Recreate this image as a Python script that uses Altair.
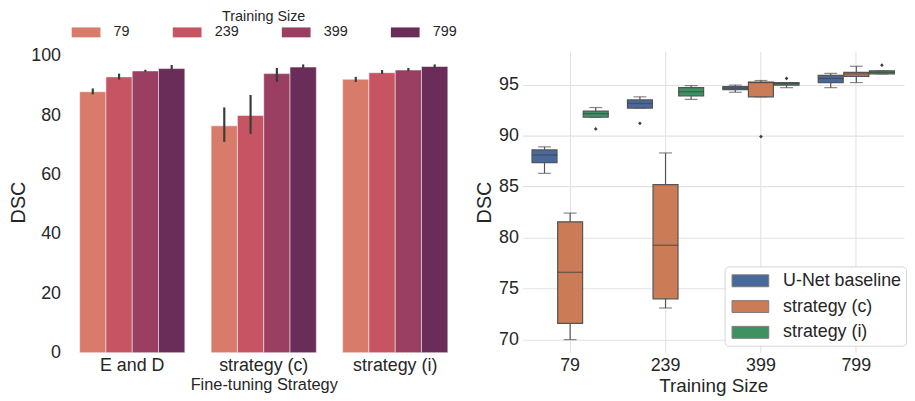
import altair as alt
import pandas as pd

# ---------------- left panel data (bar chart, mean with error bars) ----------------
strategies = ["E and D", "strategy (c)", "strategy (i)"]
size_labels = ["79", "239", "399", "799"]
bar_colors = ["#d97b6b", "#c65462", "#9a3e62", "#6a2d5a"]

bar_mean = {
    "E and D":      [87.9, 92.9, 94.9, 95.7],
    "strategy (c)": [76.4, 79.9, 94.0, 96.2],
    "strategy (i)": [92.1, 94.3, 95.2, 96.4],
}
bar_lo = {
    "E and D":      [87.0, 92.0, 94.6, 95.4],
    "strategy (c)": [71.0, 73.7, 91.2, 95.9],
    "strategy (i)": [91.2, 93.9, 94.8, 96.0],
}
bar_hi = {
    "E and D":      [89.0, 94.0, 95.3, 96.9],
    "strategy (c)": [82.6, 86.8, 95.9, 97.1],
    "strategy (i)": [92.9, 95.2, 95.9, 97.1],
}

# ---------------- right panel data (box plots) ----------------
methods = ["U-Net baseline", "strategy (c)", "strategy (i)"]
box_colors = ["#48699a", "#cc7b57", "#3f9162"]
sizes = ["79", "239", "399", "799"]

box_lo = {
    "U-Net baseline": [86.3, 92.7, 94.25, 94.7],
    "strategy (c)":   [70.0, 73.1, 93.8, 95.2],
    "strategy (i)":   [91.8, 93.55, 94.7, 96.05],
}
box_q1 = {
    "U-Net baseline": [87.35, 92.7, 94.5, 95.2],
    "strategy (c)":   [71.6, 74.0, 93.8, 95.8],
    "strategy (i)":   [91.8, 93.9, 94.95, 96.05],
}
box_med = {
    "U-Net baseline": [88.1, 93.15, 94.65, 95.6],
    "strategy (c)":   [76.6, 79.25, 95.2, 96.05],
    "strategy (i)":   [92.15, 94.3, 95.1, 96.2],
}
box_q3 = {
    "U-Net baseline": [88.6, 93.5, 94.8, 95.9],
    "strategy (c)":   [81.55, 85.2, 95.25, 96.2],
    "strategy (i)":   [92.4, 94.7, 95.2, 96.35],
}
box_hi = {
    "U-Net baseline": [88.9, 93.8, 94.95, 96.1],
    "strategy (c)":   [82.4, 88.3, 95.4, 96.8],
    "strategy (i)":   [92.75, 94.9, 95.2, 96.35],
}
outlier_method = ["U-Net baseline", "strategy (c)", "strategy (i)", "strategy (i)", "strategy (i)"]
outlier_size = ["239", "399", "79", "399", "799"]
outlier_value = [91.2, 89.9, 90.65, 95.6, 96.9]

# ---------------- build tables ----------------
bar_rows = []
for s in strategies:
    for i, sz in enumerate(size_labels):
        bar_rows.append({"Strategy": s, "Size": sz, "DSC": bar_mean[s][i],
                         "lo": bar_lo[s][i], "hi": bar_hi[s][i]})
df_bar = pd.DataFrame(bar_rows)

box_rows = []
for m in methods:
    for i, sz in enumerate(sizes):
        box_rows.append({"Method": m, "Size": sz, "lo": box_lo[m][i], "q1": box_q1[m][i],
                         "med": box_med[m][i], "q3": box_q3[m][i], "hi": box_hi[m][i]})
df_box = pd.DataFrame(box_rows)
df_out = pd.DataFrame({"Method": outlier_method, "Size": outlier_size, "DSC": outlier_value})

FONT = "Liberation Sans"
TXT = "#262626"
PLOT_H = 304

# ---------------- left chart ----------------
lx = alt.X("Strategy:N", sort=strategies,
           scale=alt.Scale(domain=strategies, paddingInner=0.2, paddingOuter=0.1),
           axis=alt.Axis(title="Fine-tuning Strategy", labelAngle=0, ticks=False, domain=False,
                         labelFontSize=18, titleFontSize=16.5, labelPadding=4, titlePadding=2,
                         titleFontWeight="normal"))
lxo = alt.XOffset("Size:N", sort=size_labels,
                  scale=alt.Scale(domain=size_labels, paddingInner=0, paddingOuter=0))
ly_scale = alt.Scale(domain=[0, 101.5], nice=False, zero=True)

left_legend = alt.Legend(
    title="Training Size", orient="none", legendX=5, legendY=-42, direction="horizontal",
    titleAnchor="middle", titleOrient="top", titleFontSize=14.5, titleFontWeight="normal",
    labelFontSize=14.5, symbolType="M-1,-0.714H3.143V0.714H-1Z", symbolSize=196,
    labelOffset=28, columnPadding=43, symbolStrokeWidth=0, titlePadding=1,
    symbolOpacity=1)

bars = alt.Chart(df_bar).mark_bar(stroke="white", strokeWidth=1, strokeOpacity=0.5).encode(
    x=lx, xOffset=lxo,
    y=alt.Y("DSC:Q", scale=ly_scale,
            axis=alt.Axis(values=[0, 20, 40, 60, 80, 100], grid=False, ticks=False, domain=False,
                          labelPadding=6, title="DSC", titleFontSize=20, titlePadding=2,
                          labelFontSize=18, titleFontWeight="normal")),
    color=alt.Color("Size:N", sort=size_labels,
                    scale=alt.Scale(domain=size_labels, range=bar_colors), legend=left_legend),
)
errs = alt.Chart(df_bar).mark_rule(color="#3b3b3b", strokeWidth=2.2).encode(
    x=lx, xOffset=lxo, y=alt.Y("lo:Q", scale=ly_scale), y2="hi:Q")
left = alt.layer(bars, errs).properties(width=398, height=PLOT_H)

# ---------------- right chart ----------------
rx = alt.X("Size:N", sort=sizes,
           scale=alt.Scale(domain=sizes, paddingInner=0, paddingOuter=0),
           axis=alt.Axis(title="Training Size", labelAngle=0, ticks=False, domain=False, grid=True,
                         labelFontSize=18, titleFontSize=19, labelPadding=4, titlePadding=2,
                         titleFontWeight="normal"))
rxo = alt.XOffset("Method:N", sort=methods,
                  scale=alt.Scale(domain=methods, paddingInner=0.025, paddingOuter=0.375))
ry_scale = alt.Scale(domain=[68.72, 98.26], nice=False, zero=False)
ry = alt.Y("q1:Q", scale=ry_scale,
           axis=alt.Axis(values=[70, 75, 80, 85, 90, 95], grid=True, ticks=False, domain=False,
                         labelPadding=4, title="DSC", titleFontSize=20, titlePadding=4,
                         labelFontSize=18, titleFontWeight="normal"))

right_legend = alt.Legend(
    title=None, orient="none", legendX=204, legendY=217, fillColor="white",
    strokeColor="#d6d6d6", cornerRadius=4, padding=4, labelFontSize=18,
    symbolType="M-0.7,-0.6H3V0.6H-0.7Z", symbolSize=400, labelOffset=34, rowPadding=6,
    symbolStrokeWidth=1, symbolStrokeColor="#7a7a7a", symbolOpacity=1)

EDGE = "#555555"
whisk = alt.Chart(df_box).mark_rule(color=EDGE, strokeWidth=1.2).encode(
    x=rx, xOffset=rxo, y=alt.Y("lo:Q", scale=ry_scale), y2="hi:Q")
box = alt.Chart(df_box).mark_bar(stroke=EDGE, strokeWidth=1.2).encode(
    x=rx, xOffset=rxo, y=ry, y2="q3:Q",
    color=alt.Color("Method:N", sort=methods,
                    scale=alt.Scale(domain=methods, range=box_colors), legend=right_legend))
med = alt.Chart(df_box).mark_tick(orient="horizontal", thickness=1.3, size=26,
                                  color="#454545").encode(
    x=rx, xOffset=rxo, y=alt.Y("med:Q", scale=ry_scale))
cap_lo = alt.Chart(df_box).mark_tick(orient="horizontal", thickness=1.2, size=13,
                                     color=EDGE).encode(
    x=rx, xOffset=rxo, y=alt.Y("lo:Q", scale=ry_scale))
cap_hi = alt.Chart(df_box).mark_tick(orient="horizontal", thickness=1.2, size=13,
                                     color=EDGE).encode(
    x=rx, xOffset=rxo, y=alt.Y("hi:Q", scale=ry_scale))
outs = alt.Chart(df_out).mark_point(shape="diamond", filled=True, size=14, color="#3d3d3d",
                                    opacity=1).encode(
    x=rx, xOffset=rxo, y=alt.Y("DSC:Q", scale=ry_scale))

right = alt.layer(whisk, cap_lo, cap_hi, box, med, outs).properties(width=385, height=PLOT_H)

chart = alt.hconcat(left, right, spacing=62).resolve_scale(
    color="independent", xOffset="independent").properties(
    bounds="flush", padding={"left": 0, "top": 0, "right": 0, "bottom": 0}
).configure(font=FONT).configure_axis(
    labelColor=TXT, titleColor=TXT, labelFont=FONT, titleFont=FONT,
    gridColor="#e2e2e2", gridWidth=1.1
).configure_legend(labelColor=TXT, titleColor=TXT, labelFont=FONT, titleFont=FONT
).configure_view(stroke=None)

chart.save("out.html", embed_options={"renderer": "svg", "actions": False})
